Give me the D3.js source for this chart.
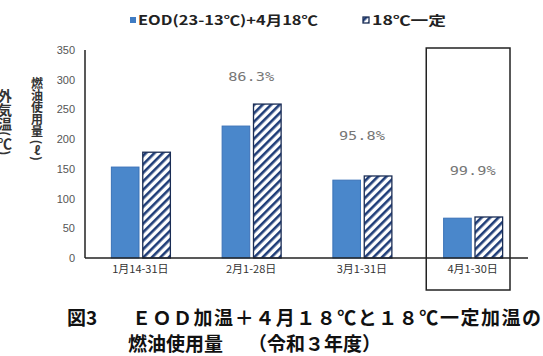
<!DOCTYPE html>
<html>
    <head>
        <meta charset="utf-8">
        <title>図3 燃油使用量</title>
        <style>
body {
    margin: 0;
    background-color: white;
}

svg {
    display: block;
    font-family: 'Noto Sans CJK JP', sans-serif;
}

.tick text {
    fill: #555;
    font-size: 11px;
}

.pct {
    fill: #777;
    font-family: 'DejaVu Sans Mono', monospace;
    font-size: 13px;
}
</style>
        <script src="https://cdn.jsdelivr.net/npm/d3@7/dist/d3.min.js"></script>
    </head>
    <body>
        <script>
// data
var categories = ['1月14-31日', '2月1-28日', '3月1-31日', '4月1-30日'];
var eodValues = [153, 222, 131, 67];      // EOD(23-13℃)+4月18℃
var constValues = [178, 259, 138, 69];    // 18℃一定
var pctLabels = [null, '86.3%', '95.8%', '99.9%'];
var pctLevel = [null, 303, 205, 145];     // where the ratio label sits, in litres
var yTicks = [0, 50, 100, 150, 200, 250, 300, 350];
var seriesNames = ['EOD(23-13℃)+4月18℃', '18℃一定'];

var width = 543,
    height = 356;

var margin = {left: 85, right: 15, top: 50, bottom: 98};

var svg = d3.select('body')
    .append('svg')
    .attr('width', width)
    .attr('height', height);

var defs = svg.append('defs');
var pat = defs.append('pattern')
    .attr('id', 'hatch')
    .attr('patternUnits', 'userSpaceOnUse')
    .attr('width', 6)
    .attr('height', 6)
    .attr('patternTransform', 'rotate(45)');
pat.append('rect')
    .attr('width', 6)
    .attr('height', 6)
    .attr('fill', 'white');
pat.append('rect')
    .attr('width', 2.6)
    .attr('height', 6)
    .attr('fill', '#1f3d78');

var x = d3.scaleBand()
    .domain(categories)
    .range([margin.left, width - margin.right]);

var y = d3.scaleLinear()
    .domain([0, 350])
    .range([height - margin.bottom, margin.top]);

var inner = d3.scaleBand()
    .domain([0, 1])
    .range([x.bandwidth() / 2 - 29, x.bandwidth() / 2 + 30])
    .paddingInner(0.12);

// y axis labels (tick text only)
var yAxis = svg.append('g')
    .attr('transform', 'translate(' + (margin.left - 10) + ',0)')
    .call(d3.axisLeft(y).tickValues(yTicks).tickSize(0).tickPadding(0));
yAxis.select('.domain').remove();

// bars
var groups = svg.append('g').selectAll('g')
    .data(categories)
    .enter()
    .append('g')
    .attr('transform', function (d) { return 'translate(' + x(d) + ',0)'; });

groups.append('rect')
    .attr('x', inner(0))
    .attr('width', inner.bandwidth())
    .attr('y', function (d, i) { return y(eodValues[i]); })
    .attr('height', function (d, i) { return y(0) - y(eodValues[i]); })
    .style('fill', '#4a87cb')
    .style('stroke', '#3a72b8')
    .style('stroke-width', 1);

groups.append('rect')
    .attr('x', inner(1))
    .attr('width', inner.bandwidth())
    .attr('y', function (d, i) { return y(constValues[i]); })
    .attr('height', function (d, i) { return y(0) - y(constValues[i]); })
    .style('fill', 'url(#hatch)')
    .style('stroke', '#1a2d55')
    .style('stroke-width', 1.3);

groups.filter(function (d, i) { return pctLabels[i] !== null; })
    .append('text')
    .attr('class', 'pct')
    .attr('x', x.bandwidth() / 2)
    .attr('y', function (d) { return y(pctLevel[categories.indexOf(d)]); })
    .attr('text-anchor', 'middle')
    .attr('dominant-baseline', 'middle')
    .attr('textLength', 46)
    .attr('lengthAdjust', 'spacingAndGlyphs')
    .text(function (d) { return pctLabels[categories.indexOf(d)]; });

// axis lines
svg.append('line')
    .attr('x1', margin.left).attr('x2', margin.left)
    .attr('y1', y(350)).attr('y2', y(0))
    .style('stroke', '#222').style('stroke-width', 1.5);
svg.append('line')
    .attr('x1', margin.left).attr('x2', width - margin.right)
    .attr('y1', y(0)).attr('y2', y(0))
    .style('stroke', '#222').style('stroke-width', 1.5);

// category labels
svg.append('g').selectAll('text')
    .data(categories)
    .enter()
    .append('text')
    .attr('x', function (d) { return x(d) + x.bandwidth() / 2; })
    .attr('y', y(0) + 15)
    .attr('text-anchor', 'middle')
    .style('font-size', '11px')
    .style('fill', '#333')
    .text(function (d) { return d; });

// highlight box around April
var last = categories[categories.length - 1];
svg.append('rect')
    .attr('x', x(last) + 9)
    .attr('y', y(350) - 2)
    .attr('width', x.bandwidth() - 27)
    .attr('height', height - 66 - y(350) + 2)
    .style('fill', 'none')
    .style('stroke', '#222')
    .style('stroke-width', 1.5);

// y titles
svg.append('text')
    .attr('x', 37)
    .attr('y', 77)
    .style('writing-mode', 'vertical-rl')
    .style('font-size', '12px')
    .style('font-weight', 'bold')
    .style('fill', '#333')
    .text('燃油使用量 (ℓ)');

svg.append('text')
    .attr('x', 5)
    .attr('y', 89)
    .style('writing-mode', 'vertical-rl')
    .style('font-size', '14px')
    .style('font-weight', 'bold')
    .style('fill', '#333')
    .text('外気温(℃)');

// legend
var legend = svg.append('g');
legend.append('rect')
    .attr('x', 130).attr('y', 17).attr('width', 6).attr('height', 6)
    .style('fill', '#3f7cc4');
legend.append('text')
    .attr('x', 138).attr('y', 21)
    .attr('dominant-baseline', 'middle')
    .attr('textLength', 180)
    .attr('lengthAdjust', 'spacingAndGlyphs')
    .style('font-size', '13px')
    .style('font-weight', 'bold')
    .style('fill', '#222')
    .text(seriesNames[0]);
legend.append('rect')
    .attr('x', 363).attr('y', 17).attr('width', 6).attr('height', 6)
    .style('fill', 'url(#hatch)')
    .style('stroke', '#1a2d55')
    .style('stroke-width', 1.3);
legend.append('text')
    .attr('x', 372).attr('y', 21)
    .attr('dominant-baseline', 'middle')
    .attr('textLength', 74)
    .attr('lengthAdjust', 'spacingAndGlyphs')
    .style('font-size', '13px')
    .style('font-weight', 'bold')
    .style('fill', '#222')
    .text(seriesNames[1]);

// caption
var cap = svg.append('g')
    .style('font-size', '19px')
    .style('font-weight', 'bold')
    .style('fill', '#111');
cap.append('text').attr('x', 67).attr('y', 325).text('図3');
cap.append('text').attr('x', 132).attr('y', 325)
    .attr('textLength', 409)
    .text('ＥＯＤ加温＋４月１８℃と１８℃一定加温の');
cap.append('text').attr('x', 128).attr('y', 351).text('燃油使用量');
cap.append('text').attr('x', 248).attr('y', 351).text('（令和３年度）');

        </script>
    </body>
</html>
